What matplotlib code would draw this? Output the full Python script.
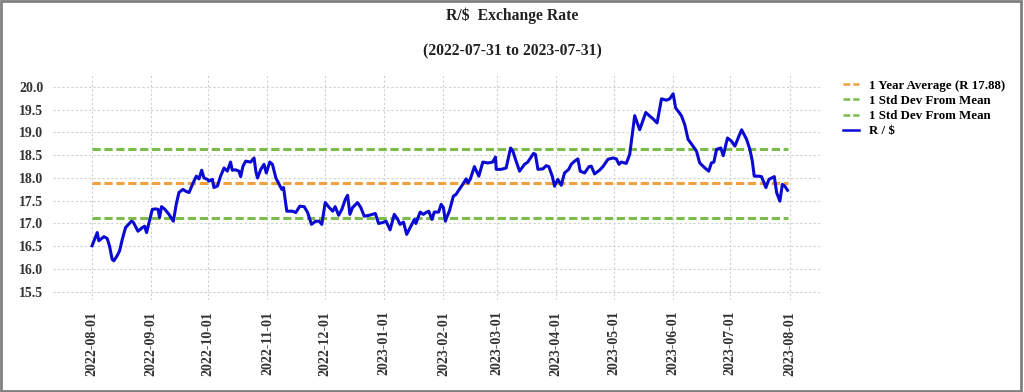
import matplotlib.pyplot as plt
import matplotlib.dates as mdates
from matplotlib.patches import Rectangle
import pandas as pd
import numpy as np

START = "2022-08-01"

# days after START, R/$ rate
days = [0.3, 3.0, 3.8, 6.5, 8.2, 9.4, 10.8, 11.7, 13.4, 14.7, 16.1, 17.8, 20.9, 21.8,
        24.3, 26.6, 27.8, 28.8, 31.8, 33.5, 34.8, 35.6, 36.6, 38.4, 40.5, 42.8, 44.3,
        45.7, 47.8, 49.2, 51.0, 53.0, 54.8, 56.2, 57.6, 58.8, 60.6, 61.4, 63.2, 64.0,
        65.8, 67.5, 69.3, 71.0, 72.7, 73.6, 75.3, 77.1, 78.0, 79.2, 80.6, 83.2, 85.0,
        85.9, 86.8, 88.5, 90.2, 91.4, 93.2, 94.6, 96.4, 98.1, 99.5, 100.4, 102.1,
        105.1, 106.8, 108.9, 111.2, 113.0, 115.0, 117.2, 119.0, 120.4, 122.2, 124.3,
        126.1, 127.4, 129.2, 130.9, 132.7, 133.9, 135.1, 136.5, 139.1, 140.8, 142.6,
        145.2, 148.4, 150.1, 152.2, 154.0, 156.1, 158.3, 160.1, 161.3, 163.1, 164.8,
        167.0, 168.8, 169.6, 171.8, 173.5, 174.9, 176.3, 178.0, 179.2, 181.5, 182.8,
        184.0, 185.0, 186.0, 187.1, 189.2, 190.6, 192.3, 194.1, 195.9, 196.8, 198.0,
        200.2, 202.5, 204.6, 207.2, 209.8, 211.2, 211.6, 214.2, 216.8, 219.1, 220.3,
        222.0, 223.8, 226.4, 228.1, 231.1, 232.1, 233.4, 236.0, 237.7, 239.1, 240.9,
        242.1, 243.8, 245.6, 247.3, 249.5, 250.8, 252.6, 254.3, 255.5, 257.8, 260.1,
        261.3, 263.0, 265.6, 267.4, 270.0, 272.6, 274.4, 275.8, 277.0, 279.6, 281.4,
        284.0, 286.6, 289.8, 291.9, 293.6, 295.7, 298.0, 300.6, 302.3, 304.1, 305.4,
        307.6, 308.5, 310.2, 311.9, 314.5, 316.3, 318.0, 320.7, 322.7, 324.1, 325.4,
        326.8, 329.0, 330.3, 332.5, 334.6, 336.4, 338.1, 339.9, 342.5, 344.2, 345.5,
        346.5, 348.6, 350.3, 352.6, 354.2, 357.0, 358.2, 359.9, 361.2, 362.5, 363.9]
rates = [16.51, 16.80, 16.62, 16.71, 16.67, 16.51, 16.21, 16.18, 16.29, 16.40, 16.65, 16.91,
         17.05, 17.03, 16.83, 16.91, 16.94, 16.80, 17.31, 17.32, 17.31, 17.13, 17.37, 17.31,
         17.20, 17.05, 17.42, 17.68, 17.75, 17.71, 17.68, 17.88, 18.04, 17.98, 18.17, 18.00,
         17.97, 17.93, 17.97, 17.79, 17.82, 18.04, 18.22, 18.15, 18.35, 18.17, 18.18, 18.15,
         18.03, 18.26, 18.37, 18.35, 18.44, 18.15, 18.00, 18.19, 18.30, 18.11, 18.35, 18.30,
         18.00, 17.86, 17.75, 17.79, 17.27, 17.27, 17.24, 17.38, 17.37, 17.24, 16.98, 17.05,
         17.05, 16.98, 17.46, 17.35, 17.27, 17.37, 17.18, 17.31, 17.53, 17.62, 17.20, 17.35,
         17.46, 17.35, 17.16, 17.18, 17.22, 17.00, 17.02, 17.05, 16.86, 17.20, 17.09, 16.98,
         17.03, 16.76, 16.94, 17.09, 17.00, 17.25, 17.20, 17.24, 17.27, 17.09, 17.25, 17.25,
         17.42, 17.35, 17.05, 17.16, 17.27, 17.60, 17.64, 17.75, 17.86, 17.98, 17.89, 17.97,
         18.25, 18.04, 18.35, 18.33, 18.35, 18.46, 18.19, 18.19, 18.22, 18.66, 18.59, 18.37,
         18.15, 18.30, 18.35, 18.54, 18.52, 18.19, 18.20, 18.27, 18.25, 18.04, 17.82, 17.97,
         17.84, 18.11, 18.19, 18.30, 18.37, 18.42, 18.15, 18.11, 18.25, 18.26, 18.09, 18.17,
         18.25, 18.41, 18.44, 18.42, 18.30, 18.35, 18.32, 18.52, 19.37, 19.06, 19.44, 19.36,
         19.30, 19.21, 19.74, 19.71, 19.74, 19.85, 19.54, 19.42, 19.36, 19.17, 18.85, 18.70,
         18.59, 18.33, 18.22, 18.15, 18.33, 18.35, 18.63, 18.66, 18.49, 18.88, 18.81, 18.70,
         18.88, 19.06, 18.85, 18.63, 18.37, 18.04, 18.04, 18.03, 17.79, 17.97, 18.03, 17.68,
         17.49, 17.86, 17.82, 17.73]

AVERAGE = 17.88
STD_UPPER = 18.63
STD_LOWER = 17.13

plt.rcParams['font.family'] = ['Liberation Serif', 'DejaVu Serif']
plt.rcParams['font.weight'] = 'bold'

dates = pd.to_datetime(START) + pd.to_timedelta(days, unit='D')

fig = plt.figure(figsize=(10.24, 3.92), dpi=100)
ax = fig.add_axes([0.052, 0.235, 0.749, 0.579])

dash = (2.7, 1.2)
ax.plot([dates[0], dates[-1]], [AVERAGE, AVERAGE], '--', color='#f0a040', lw=2.2,
        dashes=dash, label=f"1 Year Average (R {AVERAGE:.2f})")
ax.plot([dates[0], dates[-1]], [STD_UPPER, STD_UPPER], '--', color='#7cbc4c', lw=2.2,
        dashes=dash, label="1 Std Dev From Mean")
ax.plot([dates[0], dates[-1]], [STD_LOWER, STD_LOWER], '--', color='#7cbc4c', lw=2.2,
        dashes=dash, label="1 Std Dev From Mean")
ax.plot(dates, rates, color='#0a0ad2', lw=2.2, label="R / $")

ax.set_ylim(15.32, 20.31)
ax.set_xlim(pd.Timestamp("2022-07-12"), pd.Timestamp("2023-08-17"))
ax.set_yticks(np.arange(15.5, 20.01, 0.5))
ax.xaxis.set_major_locator(mdates.MonthLocator())
ax.xaxis.set_major_formatter(mdates.DateFormatter('%Y-%m-%d'))
ax.tick_params(axis='x', rotation=90, labelsize=10, length=0, pad=8)
ax.tick_params(axis='y', labelsize=10, length=0, pad=7)
for lab in ax.get_xticklabels() + ax.get_yticklabels():
    lab.set_fontweight('bold')
    lab.set_color('#333333')
ax.grid(True, linestyle=(0, (2, 2)), color='#d0d0d0', lw=0.8)
for s in ax.spines.values():
    s.set_visible(False)

leg = ax.legend(loc='upper left', bbox_to_anchor=(1.015, 1.022), frameon=False,
                handlelength=1.2, labelspacing=0.25, handletextpad=0.8,
                prop={'weight': 'bold', 'size': 9.3})
for h in leg.get_lines():
    h.set_linewidth(1.8)

fig.text(0.5, 0.959, "R/$  Exchange Rate", ha='center', va='center',
         fontsize=11.3, fontweight='bold', color='#222222')
fig.text(0.5, 0.870, "(2022-07-31 to 2023-07-31)", ha='center', va='center',
         fontsize=11.3, fontweight='bold', color='#222222')

fig.add_artist(Rectangle((0.001, 0.003), 0.996, 0.994, transform=fig.transFigure,
                         fill=False, edgecolor='#808080', lw=2))

fig.savefig('out.png', dpi=100)
